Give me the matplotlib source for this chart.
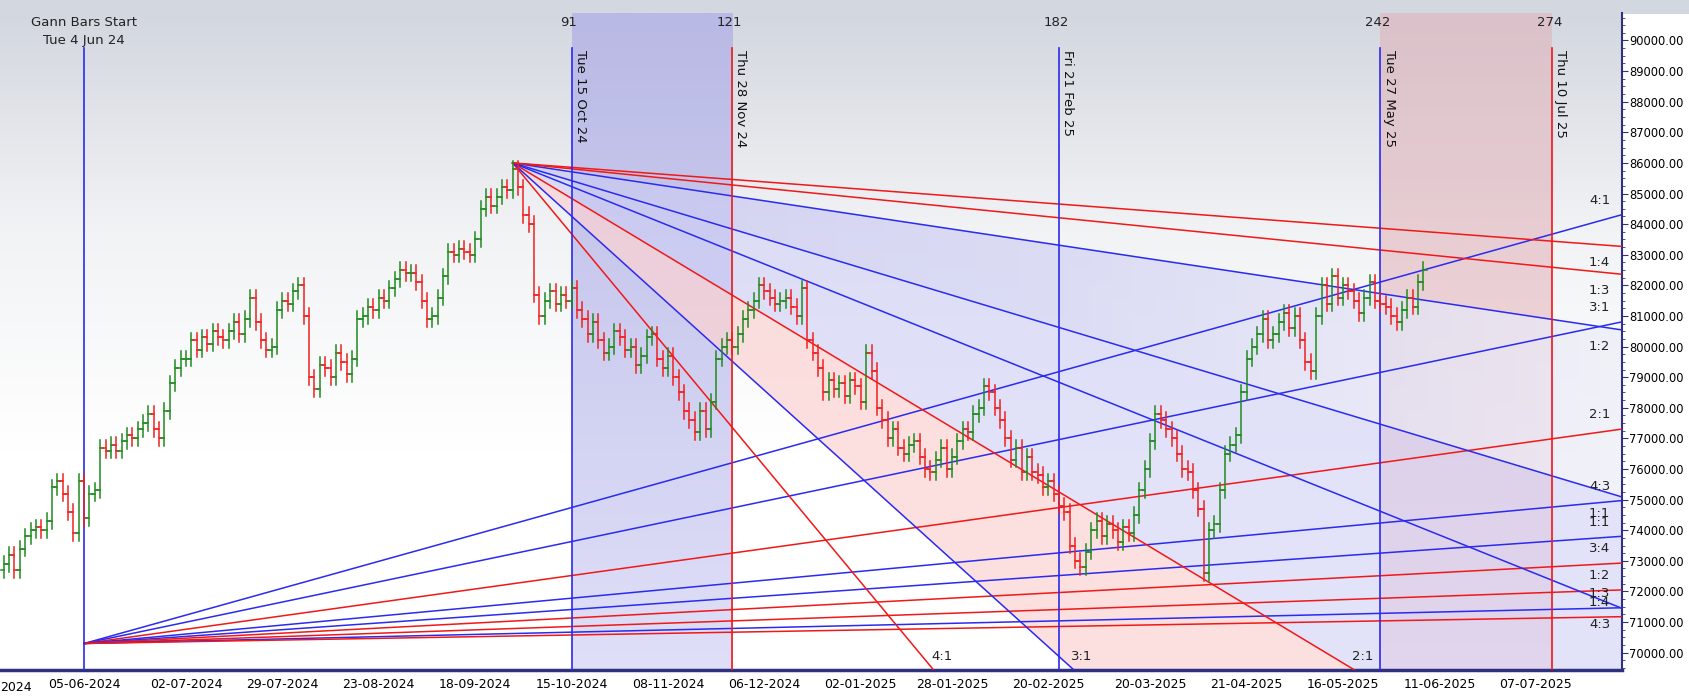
import numpy as np
import matplotlib
matplotlib.use("Agg")
import matplotlib.pyplot as plt
from matplotlib.ticker import MultipleLocator, FuncFormatter
from matplotlib.colors import LinearSegmentedColormap
from matplotlib.patches import Polygon

# ---------------- data ----------------
first_bar = -15
closes_k = [72.9,73.2,72.7,73.4,73.8,74.0,74.1,74.0,74.3,75.4,75.6,75.2,74.6,73.9,75.6,
            74.4,75.2,75.3,76.7,76.6,
            76.8,76.6,76.9,77.1,77.0,77.3,77.5,77.8,77.3,77.0,
            77.9,78.8,79.3,79.6,
            79.6,80.2,79.9,80.3,80.1,80.5,80.3,
            80.2,80.5,80.8,80.4,80.9,
            81.6,80.8,80.2,79.9,80.0,
            81.2,81.5,81.4,81.8,82.0,81.0,
            79.0,78.6,79.4,
            79.3,79.0,79.8,79.5,79.1,79.6,
            80.9,81.0,81.3,81.2,81.6,81.5,
            81.9,82.2,82.5,82.4,82.4,
            82.1,81.5,80.9,81.0,81.6,
            82.3,83.1,83.0,83.2,
            83.1,83.0,83.5,84.5,84.9,
            84.6,84.9,85.2,85.1,85.8,
            85.2,84.3,84.0,81.7,81.0,
            81.5,81.8,81.4,81.7,81.5,81.9,
            81.2,80.9,80.4,80.8,80.2,79.8,
            80.0,80.5,80.3,79.9,80.0,79.4,
            79.7,80.3,80.4,79.6,79.3,79.7,
            79.0,78.5,77.9,77.6,77.2,
            77.9,77.3,78.2,79.6,
            80.0,80.2,80.0,80.4,
            80.9,81.2,81.5,82.0,81.8,
            81.6,81.4,81.5,81.6,81.3,81.0,81.9,
            80.2,79.8,79.3,
            78.5,78.9,78.6,78.8,78.4,78.9,78.7,78.2,79.8,
            79.2,78.0,77.6,77.0,77.3,76.7,
            76.5,76.8,76.9,76.4,76.0,75.9,76.3,
            76.7,76.0,76.4,76.9,77.3,77.2,
            77.8,78.0,78.7,78.5,78.0,
            77.6,77.0,76.3,76.7,75.9,76.4,
            75.9,75.8,75.4,75.6,75.2,74.8,
            74.6,73.5,73.0,72.8,73.3,
            74.0,74.3,73.8,74.2,74.0,
            73.6,74.1,73.9,74.5,75.3,
            76.0,76.9,77.8,77.6,77.3,77.0,
            76.5,76.0,75.9,75.3,74.7,
            72.6,74.0,74.2,75.3,76.5,76.8,
            77.1,78.5,79.6,80.0,
            80.4,80.9,80.2,80.4,80.8,81.1,80.6,
            81.0,80.2,79.5,79.2,
            81.0,82.0,81.4,82.3,81.6,
            82.0,81.8,81.5,81.1,81.6,82.1,
            81.5,81.4,81.3,81.0,80.8,81.2,
            81.6,81.3,82.1,82.5]
wick_k = 0.25

low_origin = (0, 70300)
high_origin = (80, 86000)
low_unit = 12.2
high_unit = 52.7
low_ratios = ["4:1", "3:1", "2:1", "4:3", "1:1", "3:4", "1:2", "1:3", "1:4"]
low_colors = ["b", "b", "r", "b", "b", "r", "r", "b", "r"]
high_ratios = ["4:1", "3:1", "2:1", "4:3", "1:1", "1:2", "1:3", "1:4"]
high_colors = ["r", "b", "r", "b", "b", "b", "r", "r"]

cycle_bars = [91, 121, 182, 242, 274]
cycle_dates = ["Tue 15 Oct 24", "Thu 28 Nov 24", "Fri 21 Feb 25", "Tue 27 May 25", "Thu 10 Jul 25"]
cycle_colors = ["b", "r", "b", "b", "r"]

tick_bars = [0, 19, 37, 55, 73, 91, 109, 127, 145, 162, 180, 199, 217, 235, 253, 271]
tick_labels = ["05-06-2024", "02-07-2024", "29-07-2024", "23-08-2024", "18-09-2024", "15-10-2024",
               "08-11-2024", "06-12-2024", "02-01-2025", "28-01-2025", "20-02-2025", "20-03-2025",
               "21-04-2025", "16-05-2025", "11-06-2025", "07-07-2025"]

BLUE = "#2a2af0"
RED = "#f01818"
col = {"b": BLUE, "r": RED}

def ratio_val(r):
    a, b = r.split(":")
    return float(a) / float(b)

# ---------------- figure ----------------
fig = plt.figure(figsize=(16.9, 6.97), dpi=100)
fig.patch.set_facecolor("white")
hdr = fig.add_axes([0, 0.98, 1, 0.02])
hdr.axis("off")
hdr.imshow(np.zeros((1, 1)), cmap=LinearSegmentedColormap.from_list("h", ["#d3d7df", "#d3d7df"]),
           extent=[0, 1, 0, 1], aspect="auto")

ax = fig.add_axes([0.0, 0.039, 0.9598, 0.942])
X0, X1 = -15.7, 287.1
Y0, Y1 = 69440, 90890
ax.set_xlim(X0, X1)
ax.set_ylim(Y0, Y1)

grad = np.linspace(0, 1, 256).reshape(-1, 1)
bg = LinearSegmentedColormap.from_list("bg", ["#d3d7df", "#f2f3f5", "#ffffff", "#ffffff"])
ax.imshow(grad, cmap=bg, extent=[X0, X1, Y0, Y1], aspect="auto", origin="upper", zorder=0)

bcm = LinearSegmentedColormap.from_list("bb", ["#b6b6e6", "#dcdcf8"])
pcm = LinearSegmentedColormap.from_list("pb", ["#dcc0c8", "#fcdcdc"])
ax.imshow(grad, cmap=bcm, extent=[cycle_bars[0], cycle_bars[1], Y0, Y1], aspect="auto",
          origin="upper", zorder=1, alpha=0.9)
ax.imshow(grad, cmap=pcm, extent=[cycle_bars[3], cycle_bars[4], Y0, Y1], aspect="auto",
          origin="upper", zorder=1, alpha=0.9)

hx = np.linspace(high_origin[0], X1, 300)
def hline(r):
    return high_origin[1] - high_unit * ratio_val(r) * (hx - high_origin[0])

# fading fill between 1:2 and 1:1
poly = Polygon(np.column_stack([np.concatenate([hx, hx[::-1]]),
                                np.concatenate([hline("1:2"), hline("1:1")[::-1]])]),
               closed=True, facecolor="none", edgecolor="none")
ax.add_patch(poly)
hgrad = np.linspace(0, 1, 256).reshape(1, -1)
fcm = LinearSegmentedColormap.from_list("f", ["#c8c8f2", "#d4d4f4", "#eeeef8"])
im = ax.imshow(hgrad, cmap=fcm, extent=[high_origin[0], X1, Y0, Y1], aspect="auto",
               zorder=1.4, alpha=0.75)
im.set_clip_path(poly)

ax.fill_between(hx, np.maximum(hline("2:1"), Y0), hline("1:1"), color="#cfcff6", alpha=0.6, lw=0, zorder=1.5)
ax.fill_between(hx, np.maximum(hline("3:1"), Y0), np.maximum(hline("2:1"), Y0), color="#fcd2d2",
                alpha=0.7, lw=0, zorder=1.5)

lx = np.linspace(low_origin[0], X1, 300)
for r, c in zip(low_ratios, low_colors):
    ly = low_origin[1] + low_unit * ratio_val(r) * (lx - low_origin[0])
    ax.plot(lx, ly, color=col[c], lw=1.1, zorder=3)
    end = ly[-1]
    if Y0 < end < Y1:
        ax.text(X1 - 2.2, end + 250, r, ha="right", va="bottom", fontsize=9.5, color="#222", zorder=6)
for r, c in zip(high_ratios, high_colors):
    hy = hline(r)
    ax.plot(hx, hy, color=col[c], lw=1.1, zorder=3)
    end = hy[-1]
    if Y0 < end < Y1:
        ax.text(X1 - 2.2, end - 320, r, ha="right", va="top", fontsize=9.5, color="#222", zorder=6)
    else:
        xb = high_origin[0] + (high_origin[1] - Y0) / (high_unit * ratio_val(r))
        ax.text(xb + 1.5, Y0 + 220, r, ha="center", va="bottom", fontsize=9.5, color="#222", zorder=6)

vtop = 89760
ax.plot([0, 0], [Y0, vtop], color=BLUE, lw=1.2, zorder=4)
ax.text(0, 90600, "Gann Bars Start", ha="center", va="center", fontsize=9.5, color="#222")
ax.text(0, 90000, "Tue 4 Jun 24", ha="center", va="center", fontsize=9.5, color="#222")
for b, d, c in zip(cycle_bars, cycle_dates, cycle_colors):
    ax.plot([b, b], [Y0, vtop], color=col[c], lw=1.2, zorder=4)
    ax.text(b - 0.5, 90600, str(b), ha="center", va="center", fontsize=9.5, color="#222")
    ax.text(b + 0.4, vtop - 80, d, rotation=270, ha="left", va="top", fontsize=9.5, color="#111")

closes = np.array(closes_k) * 1000
opens = np.concatenate([[closes[0] - 200], closes[:-1]])
for i, (o, cl) in enumerate(zip(opens, closes)):
    x = first_bar + i
    up = cl >= o
    c = "#1f8a1f" if up else "#f02020"
    hi = max(o, cl) + wick_k * 1000
    lo = min(o, cl) - wick_k * 1000
    ax.plot([x, x], [lo, hi], color=c, lw=1.1, zorder=5)
    ax.plot([x - 0.6, x], [o, o], color=c, lw=1.1, zorder=5)
    ax.plot([x, x + 0.6], [cl, cl], color=c, lw=1.1, zorder=5)

ax.yaxis.tick_right()
ax.yaxis.set_major_locator(MultipleLocator(1000))
ax.yaxis.set_minor_locator(MultipleLocator(250))
ax.yaxis.set_major_formatter(FuncFormatter(lambda v, p: f"{v:.2f}" if v <= 90000 else ""))
ax.tick_params(axis="y", which="major", length=4, color="#303080", labelsize=8.3, pad=1)
ax.tick_params(axis="y", which="minor", length=2.5, color="#303080")
ax.set_xticks(tick_bars)
ax.set_xticklabels(tick_labels, fontsize=9)
ax.tick_params(axis="x", length=0, pad=6)
for s in ["top", "left"]:
    ax.spines[s].set_visible(False)
ax.spines["right"].set_color("#303080")
ax.spines["right"].set_linewidth(1.5)
ax.spines["bottom"].set_color("#303080")
ax.spines["bottom"].set_linewidth(2.5)
fig.text(0.0, 0.013, "2024", ha="left", va="center", fontsize=9)

fig.savefig("out.png", dpi=100)
